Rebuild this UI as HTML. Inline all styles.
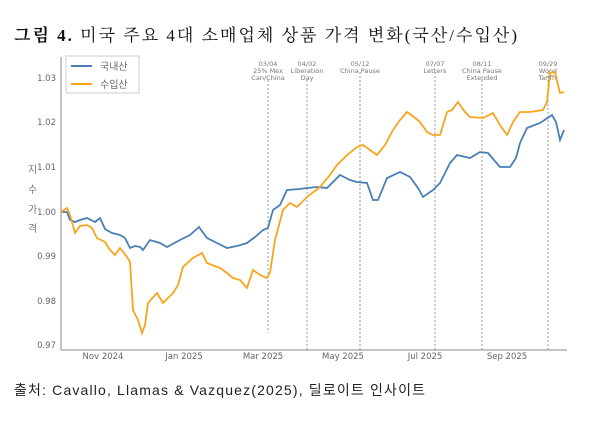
<!DOCTYPE html><html><head><meta charset="utf-8"><style>
body{margin:0;background:#fff;width:600px;height:421px;overflow:hidden;font-family:"Liberation Serif","Noto Serif CJK SC","Noto Sans CJK KR",serif}
</style></head><body>
<svg width="600" height="421" xmlns="http://www.w3.org/2000/svg">
<text x="14" y="41" font-size="17" font-family="Liberation Serif, Noto Serif CJK SC, serif" fill="#111" textLength="503" lengthAdjust="spacing"><tspan font-weight="bold">그림 4.</tspan> 미국 주요 4대 소매업체 상품 가격 변화(국산/수입산)</text>
<g font-family="DejaVu Sans, Noto Sans CJK KR, sans-serif" fill="#666" font-size="8.5">
<line x1="61" y1="57" x2="61" y2="350" stroke="#888"/>
<line x1="61" y1="350" x2="567" y2="350" stroke="#888"/>
<text x="56" y="81" text-anchor="end">1.03</text>
<text x="56" y="125" text-anchor="end">1.02</text>
<text x="56" y="170" text-anchor="end">1.01</text>
<text x="56" y="215" text-anchor="end">1.00</text>
<text x="56" y="259" text-anchor="end">0.99</text>
<text x="56" y="304" text-anchor="end">0.98</text>
<text x="56" y="348" text-anchor="end">0.97</text>
<g font-size="10" fill="#777"><text x="28" y="173">지</text><text x="28" y="193">수</text><text x="28" y="213">가</text><text x="28" y="232">격</text></g>
<g text-anchor="middle"><text x="103" y="359">Nov 2024</text><text x="184" y="359">Jan 2025</text><text x="263" y="359">Mar 2025</text><text x="343" y="359">May 2025</text><text x="425" y="359">Jul 2025</text><text x="507" y="359">Sep 2025</text></g>
<g stroke="#999" stroke-dasharray="2,2">
<line x1="268" y1="80" x2="268" y2="333"/><line x1="307" y1="80" x2="307" y2="350"/><line x1="360" y1="72" x2="360" y2="350"/><line x1="435" y1="72" x2="435" y2="350"/><line x1="482" y1="80" x2="482" y2="350"/><line x1="548" y1="72" x2="548" y2="350"/></g>
<g font-size="6.5" text-anchor="middle" fill="#777">
<text x="268" y="66">03/04</text><text x="268" y="73">25% Mex</text><text x="268" y="80">Can/China</text>
<text x="307" y="66">04/02</text><text x="307" y="73">Liberation</text><text x="307" y="80">Day</text>
<text x="360" y="66">05/12</text><text x="360" y="73">China Pause</text>
<text x="435" y="66">07/07</text><text x="435" y="73">Letters</text>
<text x="482" y="66">08/11</text><text x="482" y="73">China Pause</text><text x="482" y="80">Extended</text>
<text x="548" y="66">09/29</text><text x="548" y="73">Wood</text><text x="548" y="80">Tariffs</text></g>
<polyline fill="none" stroke="#4a7fb5" stroke-width="1.8" points="61,212 67,212 70,220 75,222 80,220 87,218 95,222 100,218 105,229 112,233 120,235 125,238 130,248 135,246 140,247 143,250 150,240 160,243 167,247 180,240 190,235 199,227 207,238 215,242 227,248 237,246 247,243 255,237 263,230 268,228 273,210 280,205 287,190 300,189 307,188 317,187 327,188 340,175 350,180 357,182 367,183 373,200 378,200 387,178 400,172 410,177 418,188 423,197 433,190 440,183 450,163 457,155 470,158 480,152 488,153 500,167 510,167 516,158 520,143 527,128 540,123 552,115 556,122 560,140 564,130"/>
<polyline fill="none" stroke="#f7a51e" stroke-width="1.8" points="61,212 64,210 67,208 70,215 75,233 80,226 87,225 92,228 97,238 105,242 110,250 115,255 120,248 127,257 130,262 133,310 138,320 142,333 145,325 148,303 157,293 163,303 173,293 178,285 183,267 193,258 202,253 207,263 220,268 227,273 233,278 240,280 247,288 253,270 260,275 267,278 270,273 275,240 283,210 290,203 297,207 307,197 320,187 330,175 337,165 347,155 357,147 363,145 377,155 385,145 393,130 400,120 407,112 414,117 420,122 427,132 433,135 440,135 447,112 452,110 458,102 465,112 470,117 483,118 493,113 500,125 507,135 513,122 520,112 530,112 543,110 547,102 550,73 555,72 558,85 560,93 564,92"/>
<rect x="66" y="56" width="73" height="37" fill="#fff" stroke="#ccc"/>
<line x1="71" y1="66" x2="92" y2="66" stroke="#4a7fb5" stroke-width="2"/>
<line x1="71" y1="84" x2="92" y2="84" stroke="#f7a51e" stroke-width="2"/>
<text x="100" y="70" font-size="10">국내산</text><text x="100" y="88" font-size="10">수입산</text>
</g>
<text x="14" y="395" font-size="14" font-family="Liberation Sans, Noto Sans CJK KR, sans-serif" fill="#222" textLength="411" lengthAdjust="spacing">출처: Cavallo, Llamas &amp; Vazquez(2025),  딜로이트 인사이트</text>
</svg></body></html>
